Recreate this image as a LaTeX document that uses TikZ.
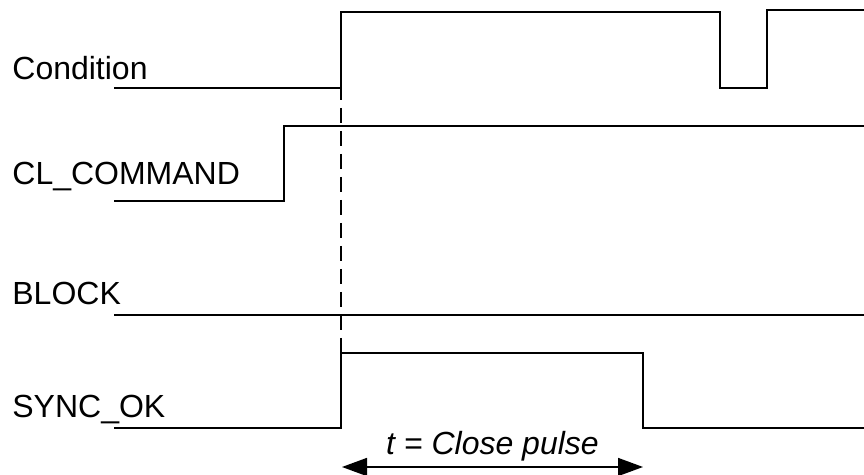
\documentclass[tikz,border=0pt]{standalone}
\usepackage{fontspec}
\setmainfont{Liberation Sans}
\usetikzlibrary{arrows.meta,positioning,calc}
\tikzset{
  sig/.style={line width=0.75pt,line join=miter,color=black},
  sigthick/.style={sig,line width=1.1pt},
  lbl/.style={font=\fontsize{16}{19}\selectfont,anchor=base west,inner sep=0pt},
  guide/.style={line width=0.7pt,dash pattern=on 7.5pt off 4pt},
  span/.style={{Triangle[length=12.5pt,width=9pt]}-{Triangle[length=12.5pt,width=9pt]},line width=0.8pt},
}
\begin{document}
\begin{tikzpicture}[x=0.5pt,y=-0.5pt]
  \useasboundingbox (0,0) rectangle (864,475);
  % signal names
  \node[lbl] (nCond) at (12,80) {Condition};
  \node[lbl] (nCmd) at (12,185) {CL\_COMMAND};
  \node[lbl] (nBlock) at (12,305) {BLOCK};
  \node[lbl] (nSync) at (12,418) {SYNC\_OK};
  % waveforms
  \draw[sig] (114,88) -- (341,88) -- (341,12) -- (720,12) -- (720,88) -- (767,88) -- (767,10) -- (864,10);
  \draw[sigthick] (114,201) -- (284,201) -- (284,126) -- (864,126);
  \draw[sig] (114,315) -- (864,315);
  \draw[sig] (114,428) -- (341,428) -- (341,353) -- (643,353) -- (643,428) -- (864,428);
  % close pulse
  \coordinate (pStart) at (342,467);
  \coordinate (pEnd) at (643,467);
  \draw[guide] (341,85) -- (341,353);
  \draw[span] (pStart) -- (pEnd);
  \node[font=\fontsize{16}{19}\selectfont\itshape,anchor=base,inner sep=0pt] (tPulse) at ($(pStart)!0.5!(pEnd)+(0,-12)$) {t = Close pulse};
\end{tikzpicture}
\end{document}
